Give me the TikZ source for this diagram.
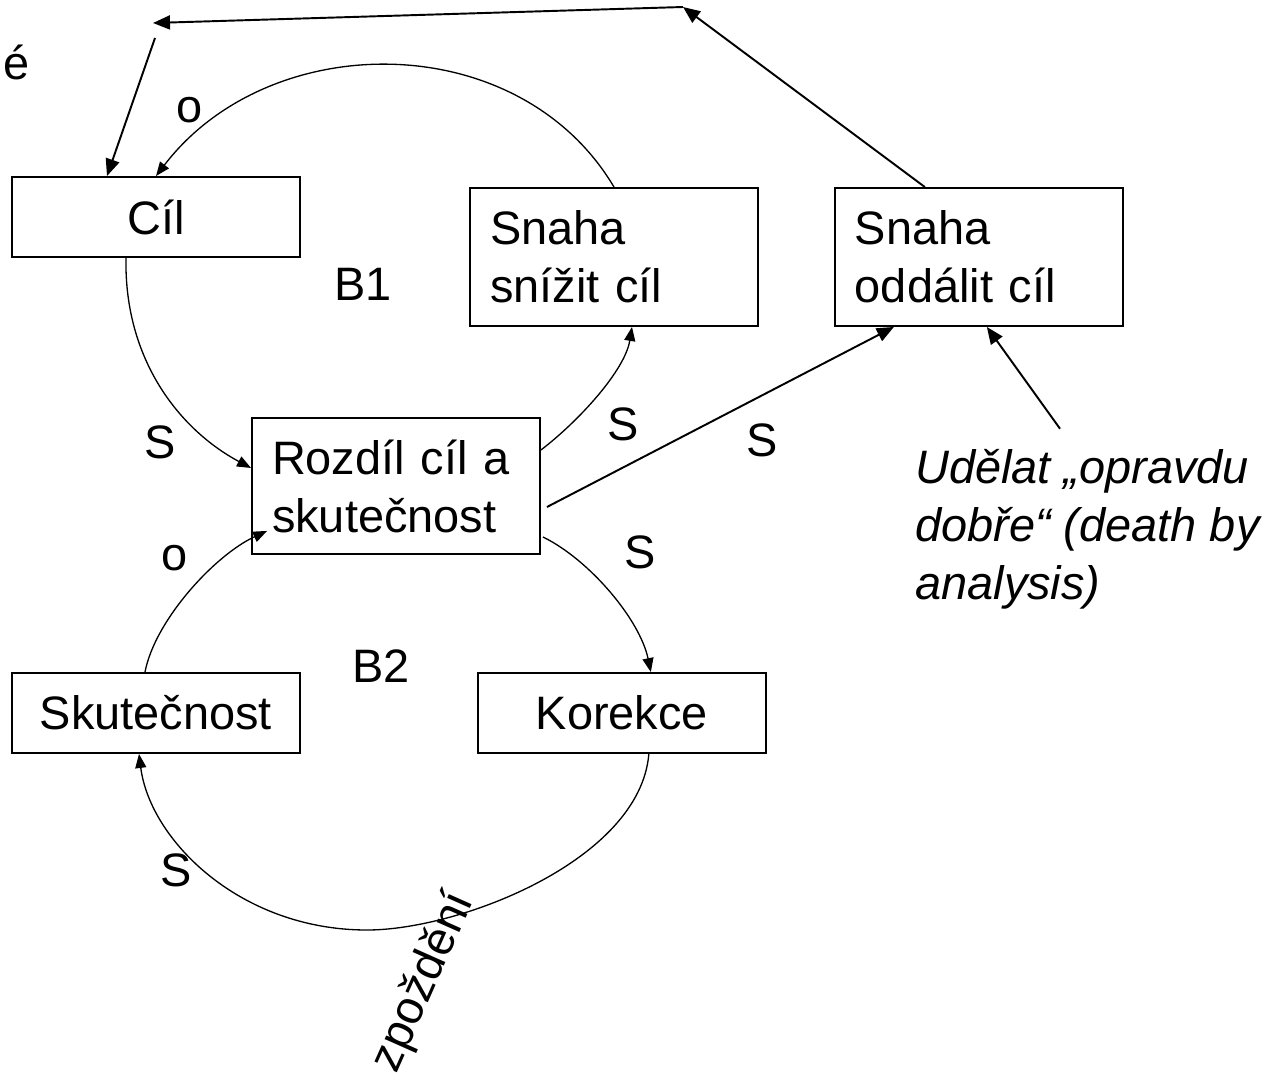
\documentclass[tikz,border=0pt]{standalone}
\usepackage{fontspec}
\setmainfont{Liberation Sans}
\usetikzlibrary{arrows.meta, positioning}

\begin{document}
\begin{tikzpicture}[
        x=0.02cm, y=-0.02cm,
        font=\fontsize{26.7}{33}\selectfont,
        box/.style={rectangle, draw, line width=1.1pt, minimum width=5.76cm, minimum height=1.6cm, inner sep=0pt, align=center},
        tbox/.style={box, text width=4.96cm, inner xsep=0.4cm, align=left, minimum height=2.76cm},
        link/.style={line width=0.75pt, -{Triangle[length=0.28cm, width=0.22cm]}},
        jump/.style={line width=1.1pt, -{Triangle[length=0.34cm, width=0.28cm]}},
        lbl/.style={inner sep=0pt, anchor=base}
    ]
        \useasboundingbox (0,0) rectangle (1273,1078);

        \node[box] (cil) at (156,217) {Cíl};
        \node[tbox] (snizit) at (614,257) {Snaha\\snížit cíl};
        \node[tbox, right=1.5cm of snizit] (oddalit) {Snaha\\oddálit cíl};
        \node[tbox, minimum height=2.72cm] (rozdil) at (396,486) {Rozdíl cíl a\\skutečnost};
        \node[box] (skut) at (156,713) {Skutečnost};
        \node[box, right=3.52cm of skut] (korekce) {Korekce};

        \node[inner sep=0pt, anchor=west, align=left, font=\fontsize{26.7}{33}\selectfont\itshape] (note) at (915,529) {Udělat „opravdu\\dobře“ (death by\\analysis)};

        % labels
        \node[lbl, anchor=base west] (ecut) at (3,80) {é};
        \node[lbl] (o1) at (190,122) {o};
        \node[lbl] (b1) at (363,300) {B1};
        \node[lbl] (s1) at (160,458) {S};
        \node[lbl] (s2) at (623,440) {S};
        \node[lbl] (s3) at (762,456) {S};
        \node[lbl] (s4) at (640,568) {S};
        \node[lbl] (o2) at (175,570) {o};
        \node[lbl] (b2) at (381,682) {B2};
        \node[lbl] (s5) at (176,886) {S};
        \node[inner sep=0pt, rotate=66] (delay) at (424,982) {zpoždění};

        \coordinate (topR) at (683,7);
        \coordinate (topL) at (153,23);
        \coordinate (drop) at (155,38);

        % B1
        \draw[link] (snizit.north) .. controls (519,27) and (270,27) .. (cil.north);
        \draw[link] ([shift={(-30,0)}]cil.south) .. controls (124,360) and (180,430) .. ([shift={(0,-18)}]rozdil.west);
        \draw[link] ([shift={(0,-36)}]rozdil.east) .. controls (580,420) and (625,370) .. ([shift={(18,0)}]snizit.south);
        % B2
        \draw[link] ([shift={(2,-18)}]rozdil.south east) .. controls (590,560) and (640,620) .. ([shift={(29,0)}]korekce.north);
        \draw[link] ([shift={(27,0)}]korekce.south) .. controls (640,860) and (460,930) .. (367,930) .. controls (240,930) and (150,840) .. ([shift={(-17,0)}]skut.south);
        \draw[link] ([shift={(-11,0)}]skut.north) .. controls (155,620) and (215,555) .. ([shift={(16,-24)}]rozdil.south west);
        % odklad cile
        \draw[jump] ([shift={(6,21)}]rozdil.east) -- ([shift={(-85,0)}]oddalit.south);
        \draw[jump] ([shift={(-54,0)}]oddalit.north) -- (topR);
        \draw[jump] (topR) -- (topL);
        \draw[jump] (drop) -- ([shift={(-49,0)}]cil.north);
        \draw[jump] ([shift={(145,-20)}]note.north west) -- ([shift={(8,0)}]oddalit.south);
    \end{tikzpicture}
\end{document}
